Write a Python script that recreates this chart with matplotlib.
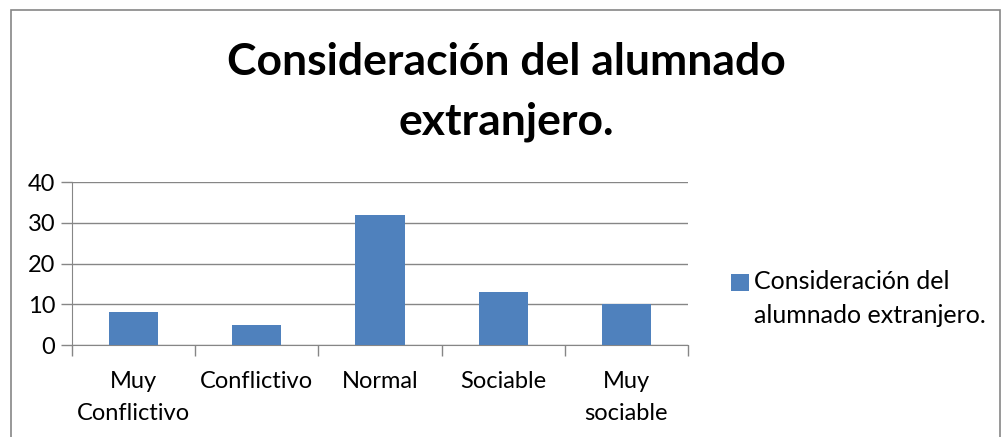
import numpy as np
import matplotlib.pyplot as plt
from matplotlib.patches import Rectangle
from matplotlib.legend_handler import HandlerPatch
from matplotlib.container import BarContainer

categories = ['Muy\nConflictivo', 'Conflictivo', 'Normal', 'Sociable', 'Muy\nsociable']
values = [8, 5, 32, 13, 10]
series_name = 'Consideración del\nalumnado extranjero.'
title = 'Consideración del alumnado\nextranjero.'

plt.rcParams['font.family'] = ['Lato', 'DejaVu Sans']


# legend square sits next to the first line of the label, like Excel
class TopSquare(HandlerPatch):
    def create_artists(self, legend, orig_handle, xdescent, ydescent, width, height, fontsize, trans):
        p = Rectangle((-xdescent, -ydescent + 12), width, height,
                      facecolor=orig_handle.patches[0].get_facecolor(), edgecolor='none',
                      transform=trans)
        return [p]


fig = plt.figure(figsize=(10.02, 4.37), dpi=100)
fig.patches.append(Rectangle((0.011, -0.05), 0.987, 1.027, transform=fig.transFigure,
                             fill=False, edgecolor='#868686', linewidth=1.2))

ax = fig.add_axes([0.0719, 0.2105, 0.6147, 0.373])
x = np.arange(len(categories))
bars = ax.bar(x, values, width=0.4, color='#4F81BD', label=series_name, zorder=3)

ax.set_xlim(-0.5, len(categories) - 0.5)
ax.set_ylim(0, 40)
ax.set_yticks([0, 10, 20, 30, 40])
ax.tick_params(axis='y', labelsize=17, length=8, color='#868686', width=1, pad=4)
ax.yaxis.grid(True, color='#868686', linewidth=1, zorder=0)

ax.set_xticks(np.arange(-0.5, len(categories), 1.0))
ax.set_xticklabels([])
ax.set_xticks(x, minor=True)
ax.set_xticklabels(categories, minor=True, fontsize=17, linespacing=1.6)
ax.tick_params(axis='x', which='major', length=8, color='#868686', width=1)
ax.tick_params(axis='x', which='minor', length=0, pad=19)

for s in ['top', 'right']:
    ax.spines[s].set_visible(False)
for s in ['left', 'bottom']:
    ax.spines[s].set_color('#868686')

fig.text(0.505, 0.79, title, ha='center', va='center', fontsize=32,
         fontweight='bold', linespacing=1.6)

leg = ax.legend(loc='center left', bbox_to_anchor=(1.07, 0.285), frameon=False,
                fontsize=18, handlelength=0.7, handleheight=0.7, handletextpad=0.2,
                borderaxespad=0, borderpad=0, labelspacing=0.3,
                handler_map={BarContainer: TopSquare()})
plt.setp(leg.get_texts(), linespacing=1.55)

fig.savefig('out.png', dpi=100)
